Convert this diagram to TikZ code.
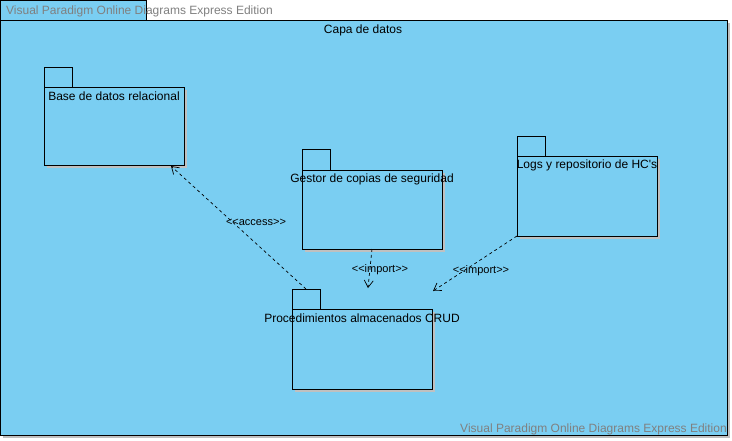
\documentclass[tikz,border=0pt]{standalone}
\usepackage{fontspec}
\setmainfont{Liberation Sans}
\newfontfamily\plainsans{Liberation Sans}
\usetikzlibrary{arrows.meta}
\definecolor{pkgblue}{RGB}{122,206,242}
\definecolor{wmgray}{RGB}{128,128,128}
\definecolor{shadowgray}{RGB}{150,150,150}
\tikzset{
  pkg/.style={draw=black, fill=pkgblue, line width=0.8pt},
  pkgshadow/.style={fill=shadowgray!60, draw=none},
  lbl/.style={font=\plainsans\fontsize{12}{14}\selectfont, inner sep=0pt},
  dep/.style={draw=black, dashed, dash pattern=on 3pt off 3pt, line width=0.7pt, -{Straight Barb[length=7pt,width=9pt,line width=0.7pt]}},
  deplbl/.style={font=\plainsans\fontsize{11}{12}\selectfont, inner sep=0pt},
  wm/.style={font=\plainsans\fontsize{12}{14}\selectfont, text=wmgray, inner sep=0pt}
}
\begin{document}
\begin{tikzpicture}[x=1pt,y=-1pt]
\useasboundingbox (0,0) rectangle (732,440);
\fill[white] (0,0) rectangle (732,440);
% outer package
\fill[pkgshadow] (3,23) rectangle (730,438);
\draw[pkg] (0.5,0.5) rectangle (146,20);
\draw[pkg] (0.5,20) rectangle (727,435);
\node[lbl] (outer) at (363,30) {Capa de datos};
% package 1
\fill[pkgshadow] (47,90) rectangle (187,168);
\draw[pkg] (44,67) rectangle (72,87);
\draw[pkg] (44,87) rectangle (184,165);
\node[lbl] (p1lbl) at (114,96) {Base de datos relacional};
\coordinate (p1) at (171,166);
% package 2
\fill[pkgshadow] (305,173) rectangle (445,252);
\draw[pkg] (302,149) rectangle (330,170);
\draw[pkg] (302,170) rectangle (442,249);
\node[lbl] (p2lbl) at (372,179) {Gestor de copias de seguridad};
\coordinate (p2) at (372,249);
% package 3
\fill[pkgshadow] (520,159) rectangle (660,239);
\draw[pkg] (517,136) rectangle (545,156);
\draw[pkg] (517,156) rectangle (657,236);
\node[lbl] (p3lbl) at (587,165) {Logs y repositorio de HC's};
\coordinate (p3) at (517,236);
% package 4
\fill[pkgshadow] (295,312) rectangle (435,392);
\draw[pkg] (292,289) rectangle (320,309);
\draw[pkg] (292,309) rectangle (432,389);
\node[lbl] (p4lbl) at (362,318) {Procedimientos almacenados CRUD};
\coordinate (p4a) at (306,289);
\coordinate (p4b) at (368,288);
\coordinate (p4c) at (433,291);
% dependencies
\draw[dep] (p4a) -- (p1);
\node[deplbl] (acc) at (256,222) {<<access>>};
\draw[dep] (p2) -- (p4b);
\node[deplbl] (imp1) at (380,270) {<<import>>};
\draw[dep] (p3) -- (p4c);
\node[deplbl] (imp2) at (481,271) {<<import>>};
% watermarks
\node[wm, anchor=west] (wm1) at (6,11) {Visual Paradigm Online Diagrams Express Edition};
\node[wm, anchor=east] (wm2) at (727,429) {Visual Paradigm Online Diagrams Express Edition};
\end{tikzpicture}
\end{document}
